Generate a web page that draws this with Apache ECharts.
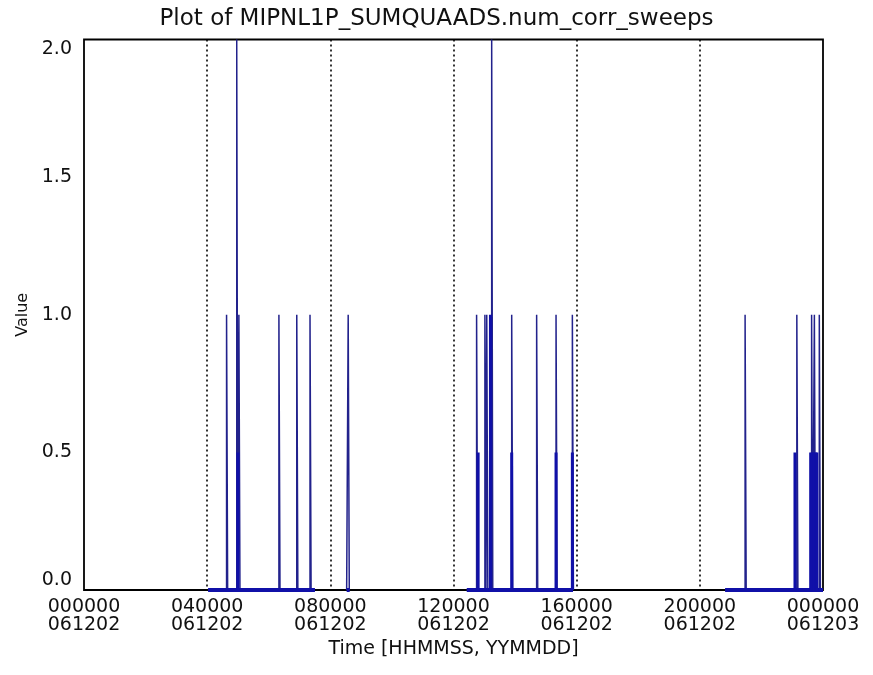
<!DOCTYPE html>
<html>
<head>
<meta charset="utf-8">
<script src="https://cdn.jsdelivr.net/npm/echarts@6/dist/echarts.min.js"></script>
<style>
  html, body { margin: 0; padding: 0; background: #fff; }
  #chart { width: 873px; height: 675px; }
</style>
</head>
<body>
<div id="chart"></div>
<script>
// ---------- data (time in hours of 2006-12-02) ----------
const chartTitle = 'Plot of MIPNL1P_SUMQUAADS.num_corr_sweeps';
const xTitle = 'Time [HHMMSS, YYMMDD]';
const yTitle = 'Value';

const xTickHours = [0, 4, 8, 12, 16, 20, 24];
const xTickTime  = ['000000', '040000', '080000', '120000', '160000', '200000', '000000'];
const xTickDate  = ['061202', '061202', '061202', '061202', '061202', '061202', '061203'];
const yTicks = [0.0, 0.5, 1.0, 1.5, 2.0];

// periods with data (value 0 baseline)
const coverageStart = [4.03, 8.53, 12.43, 20.82];
const coverageEnd   = [7.50, 8.63, 15.88, 24.00];

// narrow spikes
const spikeTime  = [4.63, 4.96, 5.03, 6.33, 6.91, 7.34, 8.58,
                    12.75, 13.02, 13.08, 13.24, 13.89, 14.70, 15.33, 15.86,
                    21.47, 23.15, 23.63, 23.72, 23.88];
const spikeValue = [1, 2, 1, 1, 1, 1, 1,
                    1, 1, 1, 2, 1, 1, 1, 1,
                    1, 1, 1, 1, 1];

// dense bursts (drawn heavier)
const burstTime  = [5.00, 12.80, 13.20, 13.89, 15.33, 15.86, 23.09, 23.60, 23.65, 23.70, 23.76, 23.80];
const burstValue = [0.5, 0.5, 1.0, 0.5, 0.5, 0.5, 0.5, 0.5, 0.5, 0.5, 0.5, 0.5];

// ---------- build ----------
const spikeW = 0.035;
const thin = '#22228c';
const thick = '#1010a8';
const series = [];

coverageStart.forEach((s, i) => {
  const e = coverageEnd[i];
  const pts = [[s, 0]];
  spikeTime.forEach((t, j) => {
    if (t >= s && t <= e) {
      const t2 = Math.min(t + spikeW, 24);
      pts.push([t, 0], [t, spikeValue[j]], [t2, spikeValue[j]], [t2, 0]);
    }
  });
  pts.push([e, 0]);
  series.push({
    type: 'line', data: pts, symbol: 'none', animation: false, silent: true,
    lineStyle: { color: thin, width: 1.5 }, clip: true, z: 3
  });
  series.push({
    type: 'line', data: [[s, 0], [e, 0]], symbol: 'none', animation: false, silent: true,
    lineStyle: { color: thick, width: 4 }, clip: true, z: 4
  });
});
burstTime.forEach((t, j) => {
  series.push({
    type: 'line', data: [[t, 0], [t, burstValue[j]]], symbol: 'none', animation: false, silent: true,
    lineStyle: { color: thick, width: 3 }, clip: true, z: 4
  });
});

const font = 'DejaVu Sans';
const chart = echarts.init(document.getElementById('chart'), null, { renderer: 'canvas' });
chart.setOption({
  backgroundColor: '#fff',
  animation: false,
  title: {
    text: chartTitle, left: 'center', top: 3,
    textStyle: { fontFamily: font, fontSize: 23, fontWeight: 'normal', color: '#111' }
  },
  grid: {
    left: 84, right: 50, top: 39.5, bottom: 85,
    containLabel: false, outerBoundsMode: 'none',
    show: true, borderColor: '#000', borderWidth: 1.8, backgroundColor: '#fff'
  },
  xAxis: {
    type: 'value', min: 0, max: 24, interval: 4,
    name: xTitle, nameLocation: 'middle', nameGap: 46,
    nameTextStyle: { fontFamily: font, fontSize: 19, color: '#111' },
    axisLine: { show: false }, axisTick: { show: false },
    splitLine: { show: true, showMinLine: false, showMaxLine: false,
                 lineStyle: { color: '#000', width: 1.6, type: [2, 3] } },
    axisLabel: {
      fontFamily: font, fontSize: 19, color: '#111', margin: 8, lineHeight: 18,
      formatter: v => {
        const k = xTickHours.indexOf(v);
        return k < 0 ? '' : xTickTime[k] + '\n' + xTickDate[k];
      }
    }
  },
  yAxis: {
    type: 'value', min: yTicks[0], max: yTicks[yTicks.length - 1], interval: 0.5,
    name: yTitle, nameLocation: 'middle', nameGap: 52, nameRotate: 90,
    nameTextStyle: { fontFamily: font, fontSize: 16, color: '#111' },
    axisLine: { show: false }, axisTick: { show: false },
    splitLine: { show: false },
    axisLabel: {
      fontFamily: font, fontSize: 19, color: '#111', margin: 12,
      verticalAlignMaxLabel: 'top', verticalAlignMinLabel: 'bottom',
      formatter: v => v.toFixed(1)
    }
  },
  series: series
});
</script>
</body>
</html>
